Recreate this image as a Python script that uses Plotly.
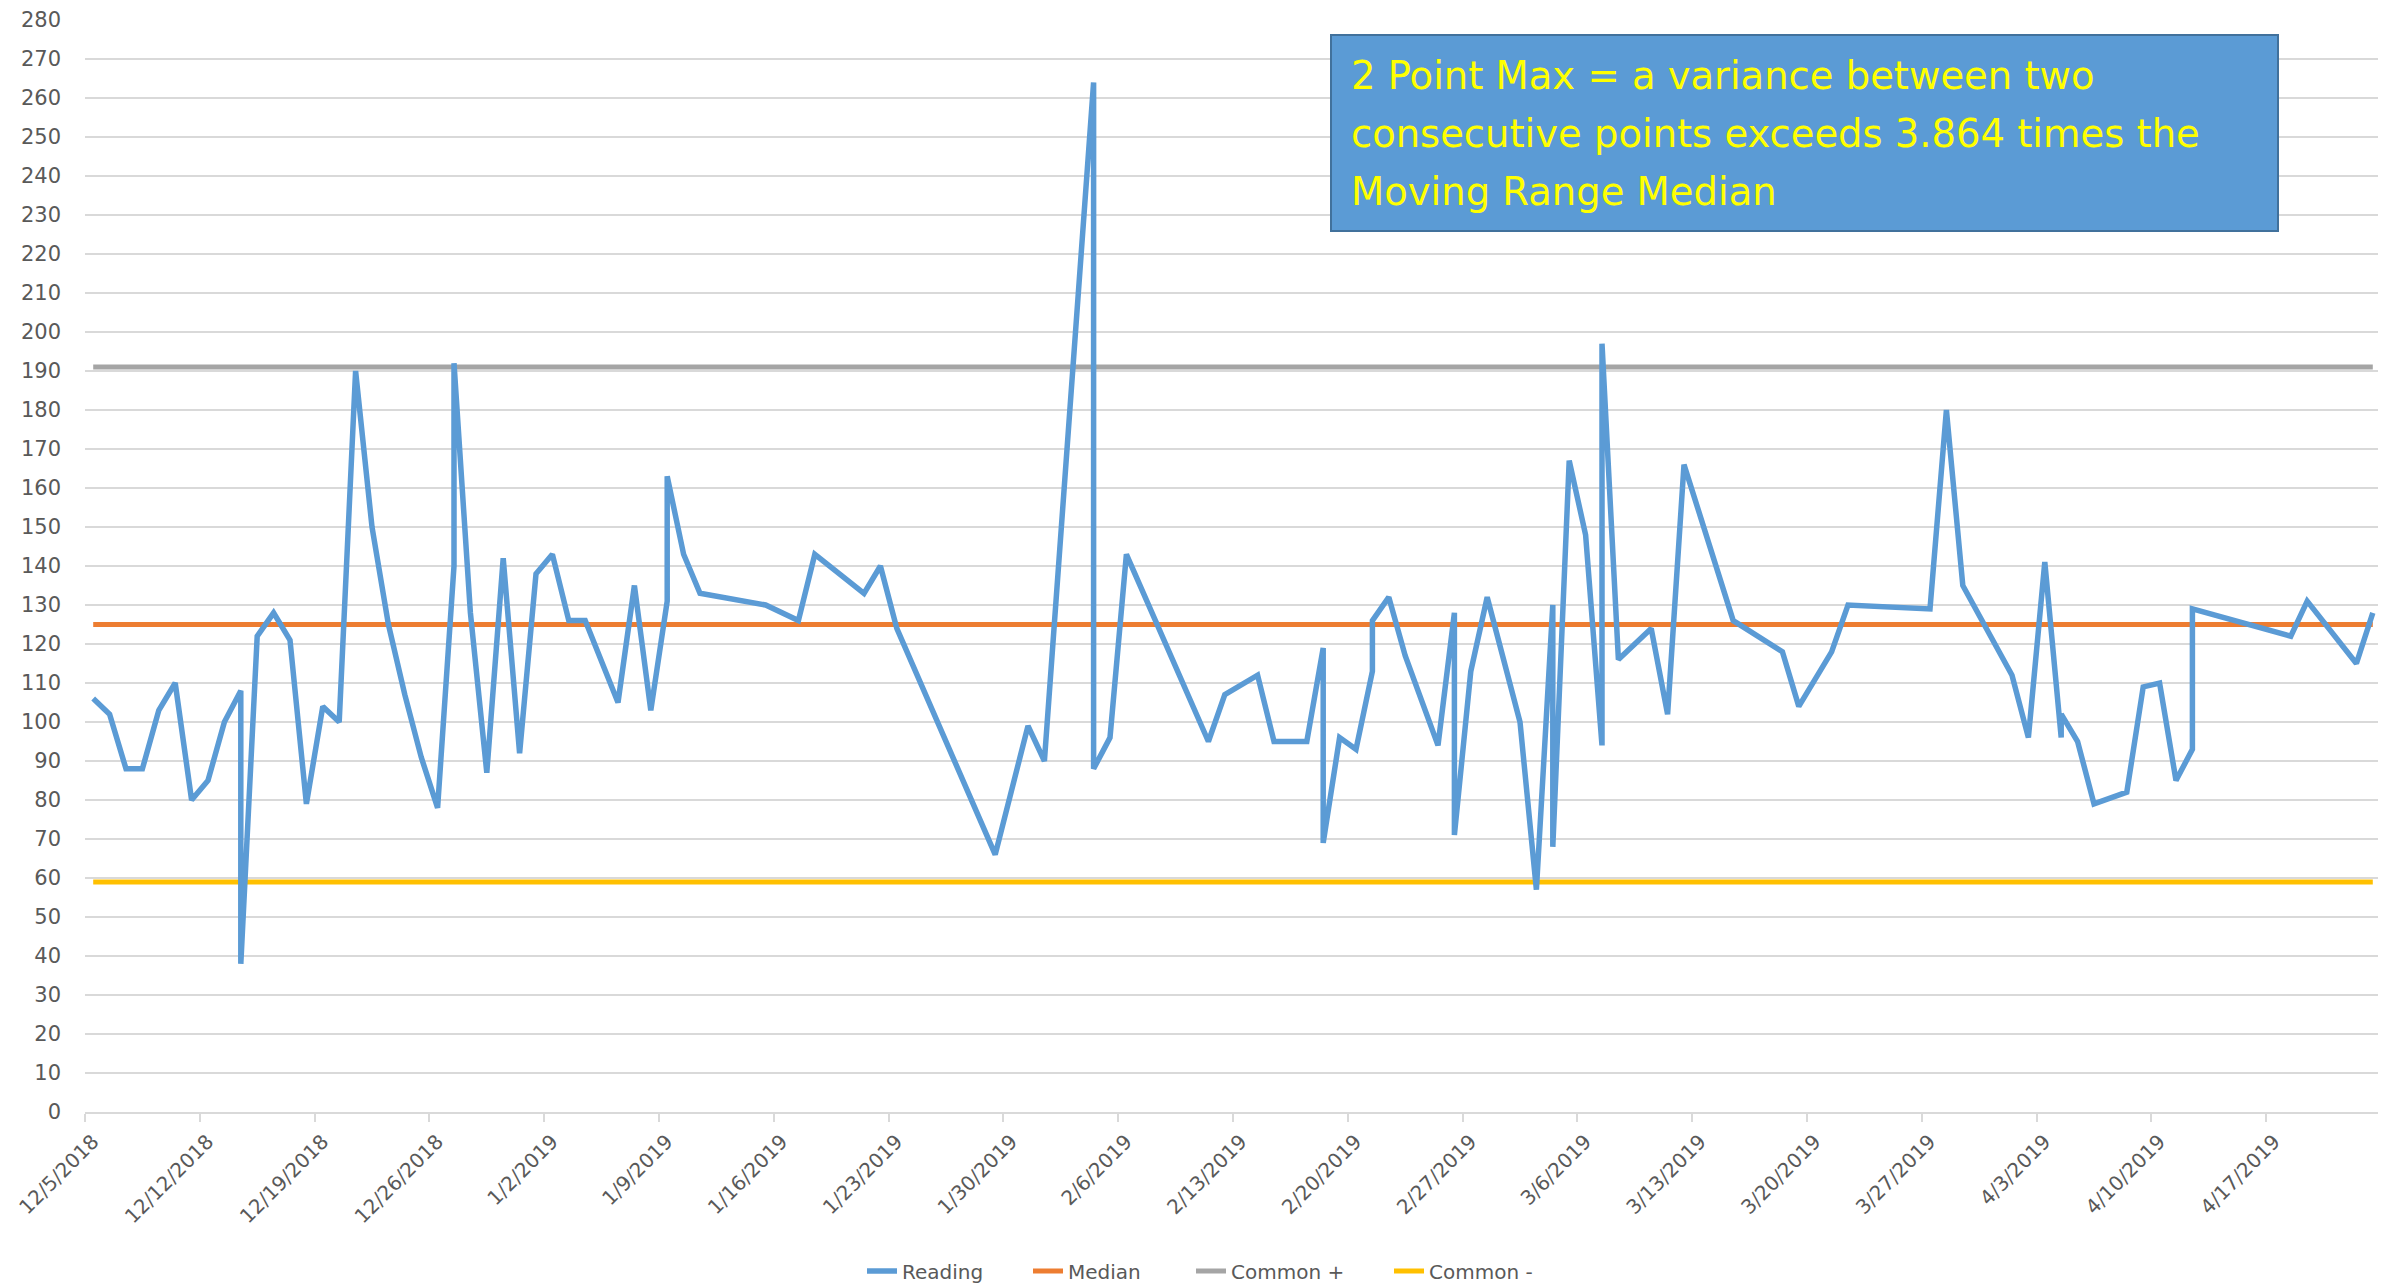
import pandas as pd
import plotly.graph_objects as go

# ---------------- data ----------------
dates = [
    "2018-12-05", "2018-12-06", "2018-12-07", "2018-12-08", "2018-12-09", "2018-12-10",
    "2018-12-11", "2018-12-12", "2018-12-13", "2018-12-14", "2018-12-14", "2018-12-15",
    "2018-12-16", "2018-12-17", "2018-12-18", "2018-12-19", "2018-12-20", "2018-12-21",
    "2018-12-22", "2018-12-23", "2018-12-24", "2018-12-25", "2018-12-26", "2018-12-27",
    "2018-12-27", "2018-12-28", "2018-12-29", "2018-12-30", "2018-12-31", "2019-01-01",
    "2019-01-02", "2019-01-03", "2019-01-04", "2019-01-06", "2019-01-07", "2019-01-08",
    "2019-01-09", "2019-01-09", "2019-01-10", "2019-01-11", "2019-01-15", "2019-01-17",
    "2019-01-18", "2019-01-21", "2019-01-22", "2019-01-23", "2019-01-29", "2019-01-31",
    "2019-02-01", "2019-02-04", "2019-02-04", "2019-02-05", "2019-02-06", "2019-02-11",
    "2019-02-12", "2019-02-14", "2019-02-15", "2019-02-17", "2019-02-18", "2019-02-18",
    "2019-02-19", "2019-02-20", "2019-02-21", "2019-02-21", "2019-02-22", "2019-02-23",
    "2019-02-25", "2019-02-26", "2019-02-26", "2019-02-27", "2019-02-28", "2019-03-02",
    "2019-03-03", "2019-03-04", "2019-03-04", "2019-03-05", "2019-03-06", "2019-03-07",
    "2019-03-07", "2019-03-08", "2019-03-10", "2019-03-11", "2019-03-12", "2019-03-15",
    "2019-03-18", "2019-03-19", "2019-03-21", "2019-03-22", "2019-03-27", "2019-03-28",
    "2019-03-29", "2019-04-01", "2019-04-02", "2019-04-03", "2019-04-04", "2019-04-04",
    "2019-04-05", "2019-04-06", "2019-04-08", "2019-04-09", "2019-04-10", "2019-04-11",
    "2019-04-12", "2019-04-12", "2019-04-18", "2019-04-19", "2019-04-22", "2019-04-23",
]
reading = [
    106, 102, 88, 88, 103, 110,
    80, 85, 100, 108, 38, 122,
    128, 121, 79, 104, 100, 190,
    150, 125, 107, 91, 78, 140,
    192, 128, 87, 142, 92, 138,
    143, 126, 126, 105, 135, 103,
    131, 163, 143, 133, 130, 126,
    143, 133, 140, 124, 66, 99,
    90, 264, 88, 96, 143, 95,
    107, 112, 95, 95, 119, 69,
    96, 93, 113, 126, 132, 117,
    94, 128, 71, 113, 132, 100,
    57, 130, 68, 167, 148, 94,
    197, 116, 124, 102, 166, 126,
    118, 104, 118, 130, 129, 180,
    135, 112, 96, 141, 96, 102,
    95, 79, 82, 109, 110, 85,
    93, 129, 122, 131, 115, 128,
]
median_value = 125
common_plus_value = 191
common_minus_value = 59

series_names = ["Reading", "Median", "Common +", "Common -"]
series_colors = ["#5B9BD5", "#ED7D31", "#A5A5A5", "#FFC000"]

x_first_tick = "2018-12-05"
x_last_tick = "2019-04-17"
x_range = ["2018-12-05", "2019-04-24"]
y_ticks = list(range(0, 281, 10))

note_lines = [
    "2 Point Max = a variance between two",
    "consecutive points exceeds 3.864 times the",
    "Moving Range Median",
]

# ---------------- figure ----------------
DAY_MS = 86400000
FONT = "DejaVu Sans"
TXT = "#595959"
OFF = 8  # default page body margin
W, H = 2386 - OFF, 1288 - OFF - 2
# plot area in page pixels, converted to figure pixels
L, R, T, B = 85 - OFF, 2381 - OFF, 20 - OFF, 1112.5 - OFF
PW, PH = R - L, B - T


def px(xp):
    return (xp - OFF - L) / PW


def py(yp):
    return 1 - (yp - OFF - T) / PH


x_tick_vals = pd.date_range(x_first_tick, x_last_tick, freq="7D")

fig = go.Figure()

series_values = [
    reading,
    [median_value] * len(dates),
    [common_plus_value] * len(dates),
    [common_minus_value] * len(dates),
]
widths = [5.5, 5, 5, 5]
legend_ids = ["legend", "legend2", "legend3", "legend4"]
legend_left = [862, 1028, 1191, 1389]  # page px of each legend entry
order = [1, 2, 3, 0]  # control lines first, Reading on top
for i in order:
    fig.add_trace(go.Scatter(
        x=dates, y=series_values[i], name=series_names[i], mode="lines",
        line=dict(color=series_colors[i], width=widths[i]),
        xperiod=DAY_MS, xperiodalignment="middle",
        legend=legend_ids[i],
    ))

# note box
fig.add_shape(
    type="rect", xref="paper", yref="paper",
    x0=px(1331), x1=px(2278), y0=py(231), y1=py(35),
    fillcolor="#5B9BD5", line=dict(color="#41719C", width=2), layer="above",
)
for line_text, yc in zip(note_lines, [76, 134, 192]):
    fig.add_annotation(
        text=line_text, xref="paper", yref="paper", x=px(1349), y=py(yc),
        xanchor="left", yanchor="middle", showarrow=False,
        font=dict(family=FONT, size=38.5, color="#FFFF00"),
    )

layout_legends = {}
for lid, lx in zip(legend_ids, legend_left):
    layout_legends[lid] = dict(
        orientation="h", xref="container", yref="container",
        x=(lx - OFF) / W, xanchor="left", y=1 - (1271 - OFF) / H, yanchor="middle",
        font=dict(family=FONT, size=20, color=TXT), bgcolor="rgba(0,0,0,0)",
        borderwidth=0,
    )

fig.update_layout(
    width=W, height=H,
    margin=dict(l=L, r=W - R, t=T, b=H - B, autoexpand=False),
    paper_bgcolor="white", plot_bgcolor="white",
    font=dict(family=FONT, color=TXT),
    showlegend=True,
    **layout_legends,
)
fig.update_xaxes(
    type="date", range=x_range, tickmode="array", tickvals=x_tick_vals,
    tickformat="%-m/%-d/%Y", tickangle=-45, ticks="outside", ticklen=8,
    tickcolor="#D9D9D9", tickwidth=2, showline=True, linecolor="#D9D9D9", linewidth=2,
    showgrid=False, zeroline=False, automargin=False, ticklabeloverflow="allow",
    ticklabelshift=8,
    tickfont=dict(family=FONT, size=20, color=TXT),
)
fig.update_yaxes(
    range=[0, 280], tickvals=y_ticks, showgrid=True, gridcolor="#D9D9D9", gridwidth=2,
    showline=False, zeroline=False, ticks="", ticklabelstandoff=23, automargin=False,
    ticklabeloverflow="allow",
    tickfont=dict(family=FONT, size=21, color=TXT),
)

fig.write_html("out.html")
